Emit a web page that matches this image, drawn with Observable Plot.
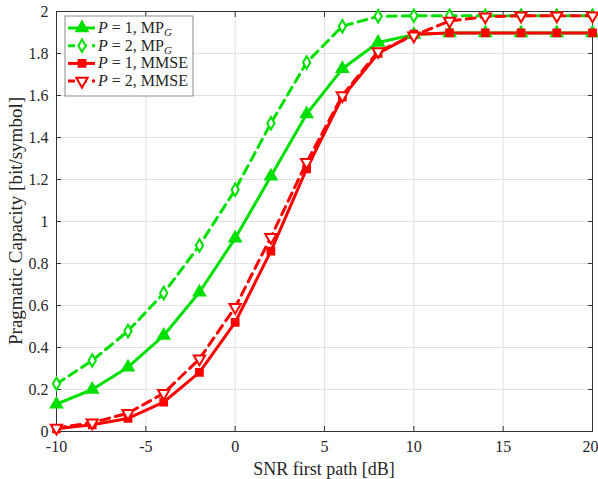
<!DOCTYPE html>
<html>
<head>
<meta charset="utf-8">
<script src="https://cdn.jsdelivr.net/npm/d3@7"></script>
<script src="https://cdn.jsdelivr.net/npm/@observablehq/plot@0.6"></script>
<style>
  body { margin: 0; background: #fff; }
  #chart svg { font-family: "Liberation Serif", serif; }
</style>
</head>
<body>
<div id="chart"></div>
<script>
const snr = [-10, -8, -6, -4, -2, 0, 2, 4, 6, 8, 10, 12, 14, 16, 18, 20];
const p1MPG  = [0.13, 0.20, 0.306, 0.457, 0.663, 0.92, 1.215, 1.512, 1.727, 1.852, 1.89, 1.898, 1.898, 1.898, 1.898, 1.898];
const p2MPG  = [0.227, 0.338, 0.478, 0.659, 0.886, 1.151, 1.468, 1.757, 1.93, 1.977, 1.98, 1.98, 1.98, 1.98, 1.98, 1.98];
const p1MMSE = [0.013, 0.032, 0.062, 0.14, 0.282, 0.52, 0.859, 1.251, 1.592, 1.80, 1.892, 1.898, 1.898, 1.898, 1.898, 1.898];
const p2MMSE = [0.017, 0.042, 0.087, 0.182, 0.346, 0.592, 0.925, 1.282, 1.60, 1.81, 1.885, 1.955, 1.975, 1.98, 1.98, 1.98];
const xTicks = [-10, -5, 0, 5, 10, 15, 20];
const yTicks = [0, 0.2, 0.4, 0.6, 0.8, 1, 1.2, 1.4, 1.6, 1.8, 2];

const green = "#00e000";
const red = "#ff0000";
const series = [
  {vals: p1MPG, color: green, dash: null, symbol: "triangle", fill: green, rotate: 0, r: 4.2},
  {vals: p2MPG, color: green, dash: "9,6", symbol: "diamond", fill: "white", rotate: 0, r: 3.8},
  {vals: p1MMSE, color: red, dash: null, symbol: "square", fill: red, rotate: 0, r: 3.8},
  {vals: p2MMSE, color: red, dash: "9,6", symbol: "triangle", fill: "white", rotate: 180, r: 4.2}
];
const legendLabels = [["1", "MP", "G"], ["2", "MP", "G"], ["1", "MMSE", null], ["2", "MMSE", null]];

const fmtX = d => d < 0 ? "-" + Math.abs(d) : String(d);
const lastX = xTicks[xTicks.length - 1];
const marks = [
  Plot.gridX(xTicks, {stroke: "#e0e0e0", strokeOpacity: 1}),
  Plot.gridY(yTicks, {stroke: "#e0e0e0", strokeOpacity: 1}),
  Plot.axisX(xTicks.slice(0, -1), {tickSize: 0, tickPadding: 9, fontSize: 16, tickFormat: fmtX, label: null}),
  Plot.axisX([lastX], {tickSize: 0, tickPadding: 9, fontSize: 16, tickFormat: fmtX, label: null, textAnchor: "end", dx: 6}),
  Plot.axisY(yTicks, {tickSize: 0, tickPadding: 8, fontSize: 16, tickFormat: d => String(d), label: null}),
  Plot.axisX(xTicks, {anchor: "bottom", tickSize: -5, text: null, label: null, stroke: "#333"}),
  Plot.axisX(xTicks, {anchor: "top", tickSize: -5, text: null, label: null, stroke: "#333"}),
  Plot.axisY(yTicks, {anchor: "left", tickSize: -5, text: null, label: null, stroke: "#333"}),
  Plot.axisY(yTicks, {anchor: "right", tickSize: -5, text: null, label: null, stroke: "#333"}),
  Plot.frame({stroke: "#333", strokeWidth: 1})
];

for (const s of series) {
  const data = snr.map((x, i) => ({x, y: s.vals[i]}));
  marks.push(Plot.line(data, {x: "x", y: "y", stroke: s.color, strokeWidth: 3, strokeDasharray: s.dash}));
}
for (const s of series) {
  const data = snr.map((x, i) => ({x, y: s.vals[i]}));
  marks.push(Plot.dot(data, {x: "x", y: "y", symbol: () => s.symbol, r: s.r,
    stroke: s.color, strokeWidth: 2, fill: s.fill, rotate: s.rotate}));
}

const chart = Plot.plot({
  width: 598,
  height: 479,
  marginLeft: 56,
  marginRight: 6,
  marginTop: 11,
  marginBottom: 48,
  style: {fontFamily: "Liberation Serif, serif", fontSize: "16px", color: "#262626", background: "white"},
  x: {domain: [-10, 20], type: "linear"},
  y: {domain: [0, 2], type: "linear"},
  symbol: {type: "identity"},
  marks
});
document.getElementById("chart").appendChild(chart);

// axis labels and legend
const svg = d3.select(chart);
svg.append("text").attr("x", 324).attr("y", 475).attr("text-anchor", "middle")
  .attr("font-size", 18).attr("fill", "#262626").text("SNR first path [dB]");
svg.append("text").attr("transform", "translate(22,221) rotate(-90)").attr("text-anchor", "middle")
  .attr("font-size", 19).attr("fill", "#262626").text("Pragmatic Capacity [bit/symbol]");

const lg = svg.append("g").attr("transform", "translate(65,16)");
lg.append("rect").attr("width", 128).attr("height", 80).attr("fill", "white").attr("stroke", "#8a8a8a").attr("stroke-width", 1);
const symMap = {triangle: d3.symbolTriangle, diamond: d3.symbolDiamond, square: d3.symbolSquare};
series.forEach((s, i) => {
  const yy = 12 + i * 17.7;
  lg.append("line").attr("x1", 3).attr("x2", 30).attr("y1", yy).attr("y2", yy)
    .attr("stroke", s.color).attr("stroke-width", 3).attr("stroke-dasharray", s.dash ? "7,5" : null);
  lg.append("path").attr("d", d3.symbol(symMap[s.symbol], Math.PI * s.r * s.r)())
    .attr("transform", `translate(17,${yy}) rotate(${s.rotate})`)
    .attr("fill", s.fill).attr("stroke", s.color).attr("stroke-width", 2);
  const t = lg.append("text").attr("x", 33).attr("y", yy + 5).attr("text-anchor", "start")
    .attr("font-size", 16).attr("fill", "#262626");
  const [p, n, sub] = legendLabels[i];
  t.append("tspan").attr("font-style", "italic").text("P");
  t.append("tspan").text(" = " + p + ", " + n);
  if (sub) t.append("tspan").attr("font-style", "italic").attr("font-size", 11).attr("dy", 3).text(sub);
});
</script>
</body>
</html>
